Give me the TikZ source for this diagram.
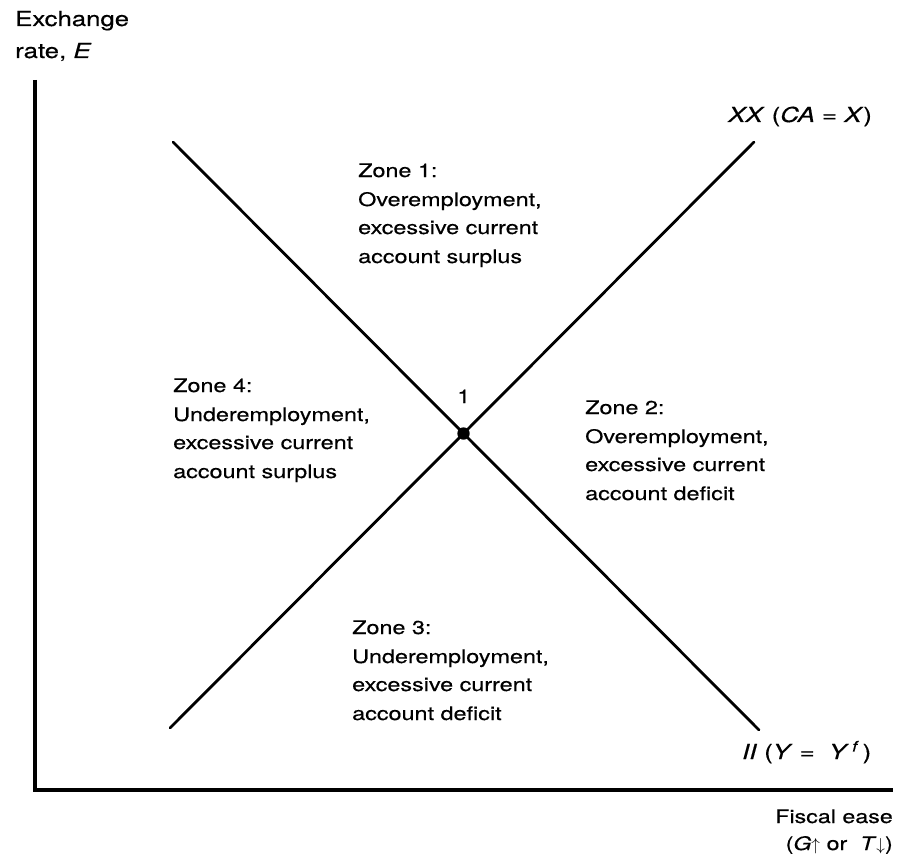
\documentclass[tikz,border=0pt]{standalone}
\usepackage{fontspec}
\setmainfont{TeX Gyre Heros}[FakeStretch=1.25,FakeBold=0.4]
\usetikzlibrary{calc}
\begin{document}
\begin{tikzpicture}[x=1pt,y=-1pt,
  lbl/.style={anchor=base west,inner sep=0pt,font=\fontsize{18.7}{22}\selectfont},
  ylbl/.style={anchor=base west,inner sep=0pt,font=\fontsize{20.6}{24}\selectfont},
  lblr/.style={anchor=base east,inner sep=0pt,font=\fontsize{18.6}{22}\selectfont},
  curvelbl/.style={anchor=base west,inner sep=0pt,font=\fontsize{20.6}{24}\selectfont},
  curve/.style={line width=2.8pt,line cap=round},
  axis/.style={line width=4pt,line join=miter}]
\useasboundingbox (0,0) rectangle (902,856);
% axes
\coordinate (ytop) at (35,80);
\coordinate (orig) at (35,790);
\coordinate (xend) at (893,790);
\draw[axis] (ytop) -- (orig) -- (xend);
% curves
\coordinate (IIa) at (173,142);
\coordinate (IIb) at (759,730);
\coordinate (XXa) at (170,728);
\coordinate (XXb) at (754,142);
\draw[curve] (IIa) -- (IIb);
\draw[curve] (XXa) -- (XXb);
\coordinate (eq) at (intersection of IIa--IIb and XXa--XXb);
\fill (eq) circle (6.2);
\node[lbl] (one) at (457,403) {1};
% axis labels
\node[ylbl] (ylab1) at (15,26) {Exchange};
\node[ylbl] (ylab2) at (15,58) {rate, \textit{E}};
\node[lblr] (xlab1) at (893,823) {Fiscal ease};
\node[lblr] (xlab2) at (893,850) {(\textit{G}$\uparrow$ or \ \textit{T}$\downarrow$)};
\node[curvelbl] (xxlab) at (728,122) {\textit{XX} (\textit{CA} = \textit{X})};
\node[curvelbl] (iilab) at (742,759) {\textit{II} (\textit{Y} = \ \textit{Y}\,\textsuperscript{\textit{f}}\,)};
% zones
\node[lbl] (z1a) at (358,177) {Zone 1:};
\node[lbl] (z1b) at (358,206) {Overemployment,};
\node[lbl] (z1c) at (358,234) {excessive current};
\node[lbl] (z1d) at (358,263) {account surplus};
\node[lbl] (z4a) at (173,392) {Zone 4:};
\node[lbl] (z4b) at (173,421) {Underemployment,};
\node[lbl] (z4c) at (173,449) {excessive current};
\node[lbl] (z4d) at (173,478) {account surplus};
\node[lbl] (z2a) at (585,414) {Zone 2:};
\node[lbl] (z2b) at (585,443) {Overemployment,};
\node[lbl] (z2c) at (585,471) {excessive current};
\node[lbl] (z2d) at (585,500) {account deficit};
\node[lbl] (z3a) at (352,634) {Zone 3:};
\node[lbl] (z3b) at (352,663) {Underemployment,};
\node[lbl] (z3c) at (352,691) {excessive current};
\node[lbl] (z3d) at (352,720) {account deficit};
\end{tikzpicture}
\end{document}
